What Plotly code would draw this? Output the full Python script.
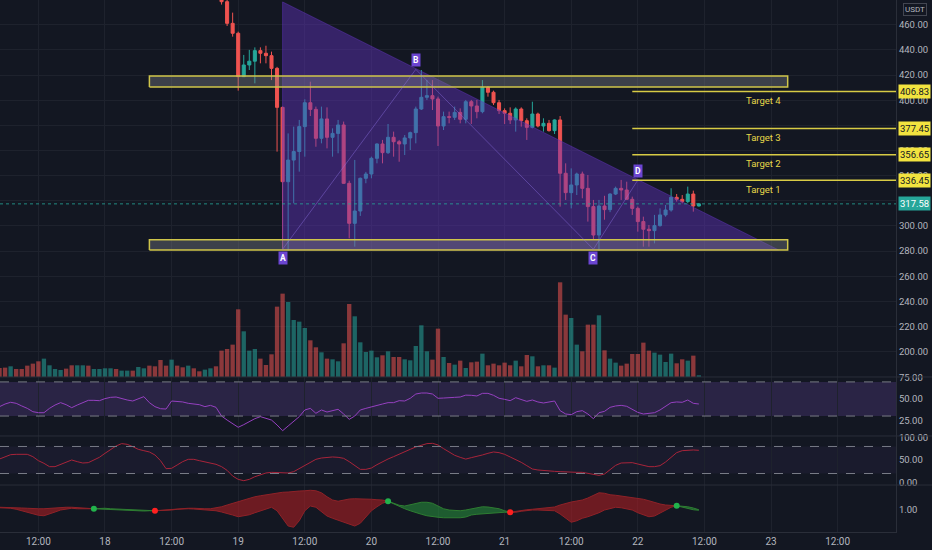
import pandas as pd
import plotly.graph_objects as go

# ---- hourly series, one value per bar from 2021-05-17 05:00 to 2021-05-22 11:00
bar_start = "2021-05-17 05:00"
volume_k = [
    27, 28, 32, 24, 24, 34, 40, 47, 55, 35,
    24, 21, 25, 35, 35, 35, 34, 24, 24, 26,
    26, 24, 19, 19, 19, 30, 26, 34, 32, 51,
    34, 52, 34, 29, 34, 26, 17, 22, 26, 32,
    79, 84, 97, 203, 137, 79, 84, 55, 36, 68,
    211, 250, 225, 171, 166, 147, 110, 89, 74, 55,
    53, 47, 101, 219, 182, 104, 75, 79, 59, 65,
    77, 60, 60, 53, 50, 93, 155, 77, 52, 145,
    60, 42, 37, 49, 27, 44, 46, 70, 35, 40,
    35, 43, 35, 49, 32, 66, 62, 32, 35, 35,
    28, 284, 187, 177, 97, 77, 157, 157, 185, 80,
    55, 43, 34, 40, 69, 69, 103, 79, 73, 67,
    45, 70, 41, 53, 49, 64, 5,
]
# u = up bar, d = down bar
vol_side = ("dduddddduu" "uudduuduuu" "uduuduuddd" "duddudduud"
            "dddduuuddd" "dduuuuddud" "uudduuuuud" "udduuuuudd"
            "udududdudd" "ddduddudud" "udduudddud" "uudddddduu" "uuddudu")

rsi = [
    41.0, 44.1, 46.1, 44.9, 41.8, 39.0, 35.1, 33.9, 33.9, 39.0,
    42.9, 45.7, 43.3, 39.8, 42.9, 45.7, 48.4, 48.4, 48.0, 50.4,
    51.9, 52.3, 50.4, 48.8, 47.6, 50.4, 52.7, 45.7, 41.0, 38.6,
    38.2, 47.6, 47.2, 46.5, 44.9, 44.1, 43.3, 41.0, 42.5, 40.2,
    30.0, 25.3, 21.4, 16.8, 19.9, 23.4, 26.9, 29.3, 27.7, 25.3,
    19.5, 12.8, 18.3, 23.4, 29.3, 37.1, 39.0, 33.2, 37.1, 34.7,
    36.3, 37.9, 32.4, 26.1, 30.0, 37.1, 39.0, 41.0, 42.5, 44.1,
    45.7, 45.7, 48.0, 47.6, 50.8, 55.8, 57.0, 57.0, 55.8, 50.8,
    51.1, 51.1, 51.9, 52.3, 54.5, 54.3, 53.5, 56.6, 56.6, 54.3,
    50.8, 49.6, 48.0, 51.5, 49.6, 47.2, 48.8, 46.5, 45.3, 46.5,
    47.6, 36.3, 32.4, 31.6, 35.1, 36.3, 32.4, 26.9, 33.9, 35.5,
    40.2, 41.8, 42.5, 41.4, 38.2, 34.3, 32.4, 32.8, 33.9, 37.1,
    41.0, 45.7, 46.5, 46.1, 48.8, 44.9, 44.1,
]

stoch = [
    52.2, 57.4, 61.8, 62.6, 62.6, 62.6, 57.4, 48.5, 42.6, 35.2,
    35.2, 39.6, 45.5, 50.0, 46.3, 43.3, 44.1, 50.0, 56.0, 64.8,
    73.7, 81.1, 86.3, 84.8, 79.6, 73.7, 70.7, 67.8, 61.1, 48.5,
    30.7, 31.5, 38.9, 46.3, 51.5, 51.5, 48.5, 45.5, 43.3, 40.4,
    35.2, 27.0, 14.4, 7.0, 4.1, 7.0, 12.9, 17.4, 21.1, 22.6,
    22.6, 21.8, 21.1, 24.1, 30.7, 38.1, 45.5, 51.5, 54.4, 55.9,
    56.7, 55.9, 53.7, 46.3, 36.7, 29.2, 29.2, 32.2, 39.6, 46.3,
    52.2, 57.4, 63.3, 68.5, 73.7, 78.9, 83.3, 86.3, 87.0, 83.3,
    75.2, 67.8, 60.4, 55.9, 52.0, 55.2, 57.4, 61.1, 64.8, 67.8,
    66.3, 62.6, 56.7, 51.5, 44.8, 37.4, 30.0, 27.8, 26.3, 25.5,
    24.8, 24.1, 23.3, 22.6, 22.6, 22.6, 20.4, 18.1, 15.9, 18.9,
    27.8, 38.1, 43.3, 44.1, 44.1, 41.1, 38.1, 35.2, 35.2, 37.4,
    45.5, 56.7, 66.3, 70.7, 72.2, 72.2, 71.5,
]

wave_fast = [
    1.09, 1.09, 1.07, 1.03, 0.97, 0.89, 0.83, 0.79, 0.77, 0.83,
    0.92, 1.00, 1.05, 1.07, 1.05, 1.04, 1.04, 1.05, 1.07, 1.07,
    1.05, 1.04, 1.03, 1.01, 1.00, 0.99, 0.99, 0.99, 0.97, 0.97,
    0.97, 1.00, 1.03, 1.05, 1.05, 1.04, 1.03, 1.01, 1.00, 0.97,
    0.92, 0.87, 0.80, 0.73, 0.76, 0.81, 0.89, 0.97, 1.05, 1.11,
    0.97, 0.67, 0.36, 0.31, 0.57, 0.97, 1.16, 1.11, 0.93, 0.76,
    0.67, 0.60, 0.53, 0.44, 0.36, 0.47, 0.73, 0.97, 1.13, 1.27,
    1.35, 1.27, 1.19, 1.16, 1.21, 1.27, 1.31, 1.31, 1.27, 1.16,
    1.05, 1.00, 0.99, 0.97, 1.00, 1.05, 1.11, 1.13, 1.12, 1.09,
    1.05, 0.97, 0.91, 0.91, 0.95, 0.99, 1.00, 1.00, 1.00, 1.00,
    0.97, 0.84, 0.67, 0.51, 0.57, 0.67, 0.73, 0.80, 0.89, 1.00,
    1.07, 1.11, 1.09, 1.05, 1.00, 0.89, 0.80, 0.73, 0.76, 0.87,
    1.00, 1.11, 1.17, 1.16, 1.13, 1.08, 1.01,
]
wave_slow = [
    1.11, 1.11, 1.09, 1.08, 1.08, 1.07, 1.05, 1.05, 1.05, 1.07,
    1.08, 1.09, 1.11, 1.11, 1.09, 1.08, 1.07, 1.05, 1.04, 1.03,
    1.01, 1.00, 0.99, 0.97, 0.96, 0.96, 0.96, 0.97, 0.97, 0.99,
    1.00, 1.03, 1.05, 1.07, 1.07, 1.07, 1.05, 1.05, 1.05, 1.08,
    1.13, 1.20, 1.27, 1.35, 1.41, 1.48, 1.53, 1.57, 1.61, 1.65,
    1.68, 1.71, 1.72, 1.75, 1.76, 1.77, 1.79, 1.77, 1.69, 1.53,
    1.40, 1.35, 1.40, 1.44, 1.45, 1.45, 1.44, 1.43, 1.41, 1.40,
    1.35, 1.24, 1.13, 1.05, 0.97, 0.89, 0.83, 0.77, 0.73, 0.71,
    0.69, 0.68, 0.68, 0.69, 0.72, 0.80, 0.83, 0.85, 0.88, 0.89,
    0.91, 0.91, 0.91, 0.95, 0.99, 1.01, 1.03, 1.05, 1.08, 1.09,
    1.12, 1.20, 1.27, 1.32, 1.36, 1.40, 1.48, 1.59, 1.69, 1.67,
    1.61, 1.59, 1.56, 1.52, 1.48, 1.45, 1.43, 1.37, 1.29, 1.24,
    1.20, 1.19, 1.17, 1.11, 1.05, 1.01, 0.99,
]
cross_idx = [17, 28, 70, 92, 122]  # bars where the two wave lines cross

# ---- candles visible in the price pane (from 2021-05-18 21:00)
candle_start = "2021-05-18 21:00"
ohlc = [
    (489.0, 493.0, 476.0, 478.3), (478.3, 481.0, 459.0, 461.1), (461.1, 469.6, 450.5, 453.2),
    (453.2, 454.5, 407.6, 418.7), (418.7, 436.0, 418.5, 428.0), (428.0, 440.0, 424.0, 431.0),
    (431.0, 442.0, 413.4, 439.4), (439.4, 442.0, 429.3, 437.3), (437.3, 443.3, 429.3, 435.4),
    (435.4, 438.6, 416.0, 425.3), (425.3, 426.5, 359.1, 394.3), (394.3, 395.0, 282.0, 335.2),
    (335.2, 373.6, 280.5, 352.4), (352.4, 379.0, 318.0, 359.2), (359.2, 384.3, 343.2, 379.0),
    (379.0, 400.7, 355.1, 398.0), (398.0, 414.7, 387.4, 392.7), (392.7, 394.9, 363.0, 369.7),
    (369.7, 394.9, 365.7, 385.1), (385.1, 394.3, 361.7, 370.5), (370.5, 377.6, 355.1, 373.6),
    (373.6, 384.3, 357.8, 380.3), (380.3, 383.0, 333.5, 333.9), (333.9, 336.0, 290.2, 302.1),
    (302.1, 352.5, 283.6, 311.9), (311.9, 338.5, 308.0, 337.9), (337.9, 343.0, 334.0, 341.3),
    (341.3, 355.1, 337.9, 353.8), (353.8, 365.7, 349.8, 365.2), (365.2, 368.4, 349.8, 358.3),
    (358.3, 381.1, 357.2, 370.5), (370.5, 375.0, 355.1, 367.0), (367.0, 368.4, 351.1, 365.2),
    (365.2, 372.3, 356.4, 370.0), (370.0, 375.0, 360.4, 374.2), (374.2, 394.9, 365.7, 393.0),
    (393.0, 424.0, 392.2, 402.3), (402.3, 416.0, 400.2, 403.6), (403.6, 416.0, 392.2, 401.0),
    (401.0, 402.8, 363.6, 379.5), (379.5, 390.9, 376.3, 386.9), (386.9, 390.9, 381.6, 386.4),
    (386.4, 394.9, 384.3, 390.3), (390.3, 393.5, 381.6, 384.8), (384.8, 400.2, 381.6, 398.8),
    (398.8, 400.2, 381.1, 395.4), (395.4, 400.2, 385.6, 390.9), (390.9, 416.0, 389.6, 410.2),
    (410.2, 411.3, 402.8, 406.3), (406.3, 407.6, 396.2, 398.0), (398.0, 400.2, 389.0, 391.7),
    (391.7, 393.5, 381.1, 389.6), (389.6, 394.3, 381.1, 384.3), (384.3, 394.3, 375.0, 393.0),
    (393.0, 394.3, 379.0, 383.7), (383.7, 385.6, 368.4, 378.4), (378.4, 398.8, 377.6, 389.0),
    (389.0, 390.1, 378.4, 379.5), (379.5, 385.6, 375.0, 381.6), (381.6, 384.3, 375.0, 375.8),
    (375.8, 384.8, 373.1, 384.3), (384.3, 387.4, 315.4, 341.9), (341.9, 349.8, 320.7, 326.5),
    (326.5, 345.8, 314.0, 332.6), (332.6, 342.4, 324.6, 341.3), (341.3, 343.2, 322.0, 329.9),
    (329.9, 340.5, 303.5, 315.4), (315.4, 320.7, 288.9, 292.8), (292.8, 320.7, 280.5, 315.9),
    (315.9, 324.0, 305.0, 313.0), (313.0, 326.0, 311.0, 325.4), (325.4, 331.3, 324.6, 329.9),
    (329.9, 336.6, 320.7, 328.6), (328.6, 335.2, 320.7, 321.2), (321.2, 323.3, 308.8, 314.0),
    (314.0, 315.4, 295.5, 303.5), (303.5, 307.4, 283.6, 297.4), (297.4, 300.8, 283.6, 296.3),
    (296.3, 308.8, 286.2, 300.3), (300.3, 314.0, 299.5, 308.8), (308.8, 316.7, 307.4, 312.7),
    (312.7, 330.0, 311.4, 322.8), (322.8, 325.4, 319.4, 321.2), (321.2, 324.6, 318.0, 319.4),
    (319.4, 331.3, 318.0, 325.4), (325.4, 328.1, 311.4, 315.9), (315.9, 318.0, 315.5, 317.58),
]
last_price = 317.58

# ---- drawings
zone_start, zone_end = "2021-05-18 08:00", "2021-05-23 03:00"
resistance_zone = (410.5, 419.2)
support_zone = (280.9, 289.0)
triangle_times = ["2021-05-19 08:00", "2021-05-19 08:00", "2021-05-23 01:20", "2021-05-19 08:00"]
triangle_prices = [478.1, 281.0, 281.0, 478.1]
abcd_names = ["A", "B", "C", "D"]
abcd_times = ["2021-05-19 08:00", "2021-05-20 08:00", "2021-05-21 16:00", "2021-05-22 00:00"]
abcd_prices = [281.5, 424.5, 281.5, 336.5]
target_names = ["Target 1", "Target 2", "Target 3", "Target 4"]
target_prices = [336.45, 356.65, 377.45, 406.83]
target_start = "2021-05-21 23:00"
target_label_time = "2021-05-22 22:35"

view_start, view_end = "2021-05-17 05:05", "2021-05-23 22:31"
tick_times = pd.date_range("2021-05-17 12:00", "2021-05-23 12:00", freq="12h")
tick_text = [t.strftime("%H:%M") if t.hour else str(t.day) for t in tick_times]

UP, DOWN = "#26a69a", "#ef5350"
BG = "#131722"
GRID = "#1e222d"
TXT = "#b2b5be"
SEP = "#2a2e39"

bar_times = pd.date_range(bar_start, periods=len(volume_k), freq="h")
candle_times = pd.date_range(candle_start, periods=len(ohlc), freq="h")

fig = go.Figure()

# triangle + zones (under candles)
fig.add_trace(go.Scatter(x=triangle_times, y=triangle_prices, mode="lines", fill="toself",
                         fillcolor="rgba(98,52,190,0.45)", line=dict(color="rgba(98,52,190,0.5)", width=1),
                         xaxis="x", yaxis="y", hoverinfo="skip", showlegend=False))
for lo, hi in (resistance_zone, support_zone):
    fig.add_trace(go.Scatter(x=[zone_start, zone_end, zone_end, zone_start, zone_start],
                             y=[lo, lo, hi, hi, lo], mode="lines", fill="toself",
                             fillcolor="rgba(130,132,140,0.38)", line=dict(color="#cfc54a", width=1.5),
                             xaxis="x", yaxis="y", hoverinfo="skip", showlegend=False))

# abcd legs
fig.add_trace(go.Scatter(x=abcd_times, y=abcd_prices, mode="lines",
                         line=dict(color="rgba(150,120,240,0.4)", width=1),
                         xaxis="x", yaxis="y", hoverinfo="skip", showlegend=False))

# volume
fig.add_trace(go.Bar(x=bar_times, y=volume_k,
                     marker=dict(color=["rgba(38,166,154,0.55)" if s == "u" else "rgba(239,83,80,0.55)"
                                        for s in vol_side], line=dict(width=0)),
                     width=0.78 * 3600 * 1000, xaxis="x", yaxis="y5", hoverinfo="skip", showlegend=False))

# candles
fig.add_trace(go.Candlestick(
    x=candle_times, open=[c[0] for c in ohlc], high=[c[1] for c in ohlc],
    low=[c[2] for c in ohlc], close=[c[3] for c in ohlc],
    increasing=dict(line=dict(color=UP, width=1), fillcolor=UP),
    decreasing=dict(line=dict(color=DOWN, width=1), fillcolor=DOWN),
    whiskerwidth=0, xaxis="x", yaxis="y", hoverinfo="skip", showlegend=False))

# rsi / stoch
fig.add_trace(go.Scatter(x=bar_times, y=rsi, mode="lines", line=dict(color="#9540c0", width=1),
                         xaxis="x2", yaxis="y2", hoverinfo="skip", showlegend=False))
fig.add_trace(go.Scatter(x=bar_times, y=stoch, mode="lines", line=dict(color="#a8243a", width=1),
                         xaxis="x3", yaxis="y3", hoverinfo="skip", showlegend=False))

# wave cloud, one filled segment between each pair of crossings
bounds = [0] + cross_idx + [len(bar_times) - 1]
for a, b in zip(bounds[:-1], bounds[1:]):
    xs = bar_times[a:b + 1]
    up = sum(f - s for f, s in zip(wave_fast[a:b + 1], wave_slow[a:b + 1])) > 0
    fill = "rgba(40,150,60,0.55)" if up else "rgba(170,30,35,0.6)"
    edge = "#2e7d32" if up else "#8e2228"
    fig.add_trace(go.Scatter(x=xs, y=wave_slow[a:b + 1], mode="lines", line=dict(color=edge, width=1),
                             xaxis="x4", yaxis="y4", hoverinfo="skip", showlegend=False))
    fig.add_trace(go.Scatter(x=xs, y=wave_fast[a:b + 1], mode="lines", fill="tonexty", fillcolor=fill,
                             line=dict(color=edge, width=1),
                             xaxis="x4", yaxis="y4", hoverinfo="skip", showlegend=False))
dot_cols = []
for i in cross_idx:
    nxt = wave_fast[i + 1] - wave_slow[i + 1]
    dot_cols.append("#22b24c" if nxt > 0 else "#ff2020")
fig.add_trace(go.Scatter(x=[bar_times[i] for i in cross_idx], y=[wave_slow[i] for i in cross_idx],
                         mode="markers", marker=dict(color=dot_cols, size=6),
                         xaxis="x4", yaxis="y4", hoverinfo="skip", showlegend=False))

shapes = []
annos = []

# targets
for name, p in zip(target_names, target_prices):
    shapes.append(dict(type="line", xref="x", yref="y", x0=target_start, x1=view_end, y0=p, y1=p,
                       line=dict(color="#d8cb45", width=1.5)))
    annos.append(dict(x=target_label_time, y=p, xref="x", yref="y", text=name, showarrow=False,
                      yshift=-9, font=dict(size=9.5, color="#e6d84a")))
    annos.append(dict(x=1, y=p, xref="paper", yref="y", text=f"{p:.2f}", showarrow=False,
                      xanchor="left", xshift=2, bgcolor="#f2e33f", borderpad=1,
                      font=dict(size=9.5, color="#131722")))

# last price
shapes.append(dict(type="line", xref="paper", yref="y", x0=0, x1=1, y0=last_price, y1=last_price,
                   line=dict(color="rgba(38,166,154,0.8)", width=1, dash="dot")))
annos.append(dict(x=1, y=last_price, xref="paper", yref="y", text=f"{last_price:.2f}", showarrow=False,
                  xanchor="left", xshift=2, bgcolor=UP, borderpad=1, font=dict(size=9.5, color="white")))

# abcd labels
for name, t, p in zip(abcd_names, abcd_times, abcd_prices):
    below = name in ("A", "C")
    annos.append(dict(x=t, y=p, xref="x", yref="y", text=f"<b>{name}</b>", showarrow=False,
                      yshift=-9 if below else 9, bgcolor="#6b45d1", borderpad=1,
                      font=dict(size=8.5, color="white")))

annos.append(dict(x=1, y=1, xref="paper", yref="paper", text="USDT", showarrow=False,
                  xanchor="left", yanchor="top", xshift=7, yshift=-3, bordercolor="#434651",
                  borderwidth=1, borderpad=1, font=dict(size=8, color=TXT)))

# indicator bands and guide lines
shapes.append(dict(type="rect", xref="paper", yref="y2", x0=0, x1=1, y0=30, y1=70,
                   fillcolor="rgba(126,87,194,0.22)", line=dict(width=0), layer="below"))
shapes.append(dict(type="rect", xref="paper", yref="y3", x0=0, x1=1, y0=20, y1=80,
                   fillcolor="rgba(126,87,194,0.07)", line=dict(width=0), layer="below"))
for ax, lv in (("y2", 70), ("y2", 30), ("y3", 80), ("y3", 20)):
    shapes.append(dict(type="line", xref="paper", yref=ax, x0=0, x1=1, y0=lv, y1=lv,
                       line=dict(color="#787b86", width=1, dash="dash")))

# pane separators
dom_price, dom_rsi, dom_stoch, dom_wave = [0.2914, 1], [0.1805, 0.2914], [0.0883, 0.1805], [0, 0.0883]
for yv in (0.2914, 0.1805, 0.0883):
    shapes.append(dict(type="line", xref="paper", yref="paper", x0=0, x1=1.0402, y0=yv, y1=yv,
                       line=dict(color=SEP, width=1)))

xcommon = dict(type="date", range=[view_start, view_end], tickvals=tick_times, ticktext=tick_text,
               showgrid=True, gridcolor=GRID, zeroline=False, showticklabels=False, ticks="")
ycommon = dict(side="right", showgrid=False, zeroline=False, showline=True, linecolor=SEP,
               tickfont=dict(size=9.5, color=TXT), ticks="", tickformat=".2f", automargin=False)

fig.update_layout(
    width=932, height=550,
    margin=dict(l=0, r=36, t=0, b=18),
    paper_bgcolor=BG, plot_bgcolor=BG,
    font=dict(family="Roboto, DejaVu Sans, sans-serif", color=TXT, size=10),
    showlegend=False, boxgap=0.22, hovermode=False,
    xaxis=dict(xcommon, anchor="y", rangeslider=dict(visible=False)),
    xaxis2=dict(xcommon, anchor="y2"),
    xaxis3=dict(xcommon, anchor="y3"),
    xaxis4=dict(xcommon, anchor="y4", showticklabels=True, tickfont=dict(size=10, color=TXT),
                showline=True, linecolor=SEP),
    yaxis=dict(ycommon, domain=dom_price, anchor="x", range=[179.97, 479.65],
               tickvals=list(range(200, 461, 20)), showgrid=True, gridcolor=GRID),
    yaxis5=dict(overlaying="y", anchor="x", range=[0, 1131], visible=False),
    yaxis2=dict(ycommon, domain=dom_rsi, anchor="x2", range=[6.62, 75.79], tickvals=[25, 50, 75]),
    yaxis3=dict(ycommon, domain=dom_stoch, anchor="x3", range=[-5.56, 103.3], tickvals=[0, 50, 100]),
    yaxis4=dict(ycommon, domain=dom_wave, anchor="x4", range=[0.12, 2.0], tickvals=[1]),
    shapes=shapes, annotations=annos,
)

# the page body has a default 8px margin; drop it so the chart fills the window
fig.write_html("out.html", config={"displayModeBar": False},
               post_script="document.body.style.margin='0';")
